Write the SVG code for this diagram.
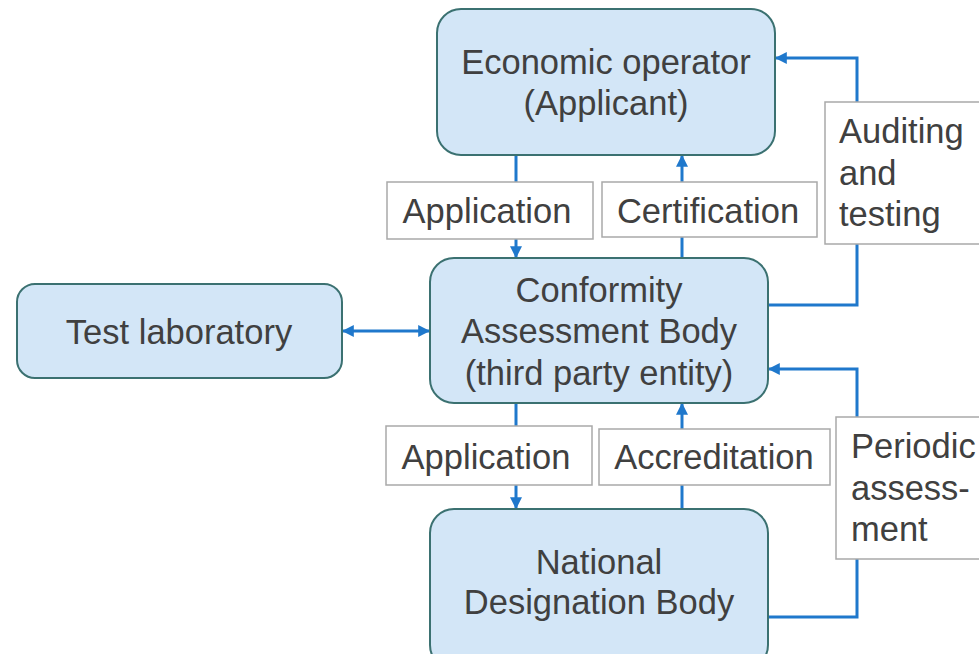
<svg xmlns="http://www.w3.org/2000/svg" width="979" height="654" viewBox="0 0 979 654">
<style>
.node rect{fill:#d3e6f7;stroke:#3b7171;stroke-width:2}
.lbl rect{fill:#ffffff;stroke:#a9a9a9;stroke-width:1.5}
text{font-family:"Liberation Sans",Arial,sans-serif;font-size:34.5px;fill:#404040}
.c{text-anchor:middle}
.conn path{fill:none;stroke:#1f78cc;stroke-width:3}
</style>
<defs>
<marker id="ah" viewBox="0 0 10 10" refX="9" refY="5" markerWidth="4" markerHeight="4" orient="auto-start-reverse" markerUnits="strokeWidth">
<path d="M0,0 L10,5 L0,10 Z" fill="#1f78cc"/>
</marker>
</defs>
<rect width="979" height="654" fill="#ffffff"/>
<g class="conn" id="connectors">
<path d="M516,155 V257" marker-end="url(#ah)"/>
<path d="M682,258 V156" marker-end="url(#ah)"/>
<path d="M768,305 H857 V58 H776" marker-end="url(#ah)"/>
<path d="M343,331 H429" marker-start="url(#ah)" marker-end="url(#ah)"/>
<path d="M516,403 V508" marker-end="url(#ah)"/>
<path d="M682,509 V404" marker-end="url(#ah)"/>
<path d="M768,617 H857 V369 H769" marker-end="url(#ah)"/>
</g>
<g class="node" id="economic-operator">
<rect x="437" y="9" width="338" height="146" rx="24"/>
<text class="c" x="606" y="74">Economic operator</text>
<text class="c" x="606" y="115">(Applicant)</text>
</g>
<g class="node" id="cab">
<rect x="430" y="258" width="338" height="145" rx="24"/>
<text class="c" x="599" y="302">Conformity</text>
<text class="c" x="599" y="343">Assessment Body</text>
<text class="c" x="599" y="385">(third party entity)</text>
</g>
<g class="node" id="test-lab">
<rect x="17" y="284" width="325" height="94" rx="18"/>
<text class="c" x="179" y="344">Test laboratory</text>
</g>
<g class="node" id="ndb">
<rect x="430" y="509" width="338" height="160" rx="24"/>
<text class="c" x="599" y="574">National</text>
<text class="c" x="599" y="614">Designation Body</text>
</g>
<g class="lbl" id="lbl-application-1">
<rect x="387" y="182" width="206" height="57"/>
<text class="c" x="487" y="223">Application</text>
</g>
<g class="lbl" id="lbl-certification">
<rect x="602" y="182" width="215" height="55"/>
<text class="c" x="708" y="223">Certification</text>
</g>
<g class="lbl" id="lbl-auditing">
<rect x="825" y="102" width="160" height="142"/>
<text x="839" y="143">Auditing</text>
<text x="839" y="185">and</text>
<text x="839" y="226">testing</text>
</g>
<g class="lbl" id="lbl-application-2">
<rect x="386" y="426" width="206" height="59"/>
<text class="c" x="486" y="469">Application</text>
</g>
<g class="lbl" id="lbl-accreditation">
<rect x="599" y="429" width="231" height="56"/>
<text class="c" x="714" y="469">Accreditation</text>
</g>
<g class="lbl" id="lbl-periodic">
<rect x="836" y="417" width="150" height="142"/>
<text x="851" y="458">Periodic</text>
<text x="851" y="500">assess-</text>
<text x="851" y="541">ment</text>
</g>
</svg>
